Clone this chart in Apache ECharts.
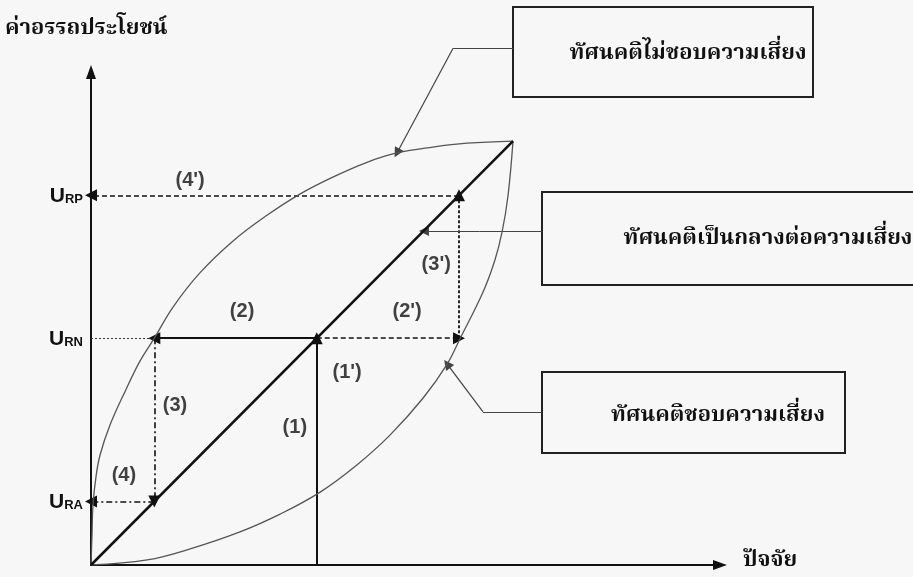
<!DOCTYPE html>
<html>
<head>
<meta charset="utf-8">
<title>ทัศนคติต่อความเสี่ยง</title>
<script src="https://cdn.jsdelivr.net/npm/echarts@6/dist/echarts.min.js"></script>
<style>
  html, body { margin: 0; padding: 0; background: #f7f7f8; }
  #chart { width: 913px; height: 577px; }
</style>
</head>
<body>
<div id="chart"></div>
<script>
// utility levels (axis units: 100 = top of the straight line)
const URA = 15;
const URN = 53.5;
const URP = 87.2;
const xMid = 53.5;

// curves
const riskAverse = [
  [0, 0], [0.24, 7.1], [0.47, 14.2], [1.18, 20.8], [2.13, 25.9], [4.5, 33],
  [8.1, 41], [11.6, 48.1], [15, 53.5], [19.4, 60.8], [25.8, 68.9],
  [33.6, 76.4], [41.7, 82.5], [49.5, 87.5], [57.3, 91.5], [65.4, 95],
  [72.5, 97.2], [81, 98.6], [89.1, 99.5], [100, 100]
];
const riskLoving = [
  [0, 0], [13.3, 1.2], [23.5, 3.8], [35.3, 7.8], [44.8, 12], [54.3, 17.2],
  [63, 23.6], [70.9, 30.7], [78.7, 39.4], [84.4, 47.4], [87.5, 53.5],
  [92.9, 64.4], [95.7, 71.9], [97.4, 78.5], [98.8, 87], [100, 100]
];
const riskNeutral = [[0, 0], [100, 100]];

// step labels
const stepLabels = ['(1)', "(1')", '(2)', "(2')", '(3)', "(3')", '(4)', "(4')"];
const stepPos = [
  [48.3, 32.5], [60.7, 45.3], [35.8, 59.7], [74.9, 59.7],
  [19.9, 37.7], [81.8, 71], [7.8, 21], [23.5, 90.8]
];

// y axis tick names
const yTickValues = [URA, URN, URP];
const yTickNames = ['RA', 'RN', 'RP'];

// box captions and the leader lines from them
const boxTexts = ['ทัศนคติไม่ชอบความเสี่ยง', 'ทัศนคติเป็นกลางต่อความเสี่ยง', 'ทัศนคติชอบความเสี่ยง'];
const leaderFlat = [
  [[100, 121.9], [85.8, 121.9]],
  [[106.9, 78.8], [92, 78.8]],
  [[106.9, 36.1], [92.9, 36.1]]
];
const leaderTip = [
  [[85.8, 121.9], [72.5, 97.2]],
  [[92, 78.8], [78.9, 78.8]],
  [[92.9, 36.1], [84.4, 47.4]]
];

const chart = echarts.init(document.getElementById('chart'));

const arrowSym = ['none', 'triangle'];
const thaiFont = '"Noto Serif Thai", "Noto Sans Thai Looped", Kinnari, Norasi, Garuda, Loma, "Noto Sans Thai", serif';

function arrowSeries(coords, type, width) {
  return {
    type: 'lines',
    coordinateSystem: 'cartesian2d',
    clip: false,
    symbol: arrowSym,
    symbolSize: [9, 12],
    silent: true,
    lineStyle: { color: '#111', width: width, type: type, opacity: 1 },
    data: [{ coords: coords }]
  };
}

const option = {
  backgroundColor: '#f7f7f8',
  animation: false,
  grid: { left: 91, right: 193, top: 72, bottom: 12 },
  xAxis: {
    type: 'value',
    min: 0,
    max: 149.05,
    splitLine: { show: false },
    axisTick: { show: false },
    axisLabel: { show: false },
    axisLine: {
      onZero: false,
      symbol: ['none', 'triangle'],
      symbolSize: [10, 14],
      lineStyle: { color: '#111', width: 2 }
    }
  },
  yAxis: {
    type: 'value',
    min: 0,
    max: 116.3,
    splitLine: { show: false },
    axisTick: { show: false },
    axisLine: {
      onZero: false,
      symbol: ['none', 'triangle'],
      symbolSize: [10, 14],
      lineStyle: { color: '#111', width: 2 }
    },
    axisLabel: {
      show: true,
      customValues: yTickValues,
      margin: 8,
      formatter: function (v) {
        const i = yTickValues.indexOf(v);
        return i < 0 ? '' : '{u|U}{s|' + yTickNames[i] + '}';
      },
      rich: {
        u: { fontFamily: 'Liberation Sans, Arial', fontWeight: 'bold', fontSize: 21, color: '#111', verticalAlign: 'bottom', lineHeight: 22 },
        s: { fontFamily: 'Liberation Sans, Arial', fontWeight: 'bold', fontSize: 13, color: '#111', verticalAlign: 'bottom', lineHeight: 18 }
      }
    }
  },
  graphic: [
    { type: 'rect', shape: { x: 513, y: 7, width: 300, height: 90 }, style: { fill: 'none', stroke: '#222', lineWidth: 2 } },
    { type: 'rect', shape: { x: 542, y: 192, width: 400, height: 93 }, style: { fill: 'none', stroke: '#222', lineWidth: 2 } },
    { type: 'rect', shape: { x: 542, y: 372, width: 303, height: 81 }, style: { fill: 'none', stroke: '#222', lineWidth: 2 } },
    { type: 'text', x: 688, y: 55, style: { text: boxTexts[0], font: 'bold 22px ' + thaiFont, fill: '#111', align: 'center', verticalAlign: 'middle' } },
    { type: 'text', x: 768, y: 240, style: { text: boxTexts[1], font: 'bold 22px ' + thaiFont, fill: '#111', align: 'center', verticalAlign: 'middle' } },
    { type: 'text', x: 718, y: 417, style: { text: boxTexts[2], font: 'bold 22px ' + thaiFont, fill: '#111', align: 'center', verticalAlign: 'middle' } },
    { type: 'text', x: 5, y: 30, style: { text: 'ค่าอรรถประโยชน์', font: 'bold 22px ' + thaiFont, fill: '#111', align: 'left', verticalAlign: 'middle' } },
    { type: 'text', x: 743, y: 562, style: { text: 'ปัจจัย', font: 'bold 22px ' + thaiFont, fill: '#111', align: 'left', verticalAlign: 'middle' } }
  ],
  series: [
    {
      name: 'ไม่ชอบความเสี่ยง',
      type: 'line',
      data: riskAverse,
      smooth: 0.4,
      showSymbol: false,
      lineStyle: { color: '#555', width: 1.3 }
    },
    {
      name: 'ชอบความเสี่ยง',
      type: 'line',
      data: riskLoving,
      smooth: 0.4,
      showSymbol: false,
      lineStyle: { color: '#555', width: 1.3 }
    },
    {
      name: 'เป็นกลาง',
      type: 'line',
      data: riskNeutral,
      showSymbol: false,
      lineStyle: { color: '#111', width: 2.5 }
    },
    // URN guide from the axis to the averse curve
    {
      type: 'lines',
      coordinateSystem: 'cartesian2d',
      silent: true,
      lineStyle: { color: '#333', width: 1, type: [2, 2], opacity: 1 },
      data: [{ coords: [[0, URN], [URA, URN]] }]
    },
    arrowSeries([[xMid, 0], [xMid, URN]], 'solid', 2),          // (1)
    arrowSeries([[xMid, URN], [URA, URN]], 'solid', 2),          // (2)
    arrowSeries([[URA, URN], [URA, URA]], [6, 3, 2, 3], 1.6),    // (3)
    arrowSeries([[URA, URA], [0, URA]], [6, 3, 2, 3], 1.6),      // (4)
    arrowSeries([[xMid, URN], [URP, URN]], [5, 3], 1.6),         // (2')
    arrowSeries([[URP, URN], [URP, URP]], [3, 2], 1.8),          // (3')
    arrowSeries([[URP, URP], [0, URP]], [5, 3], 1.6),            // (4')
    // leader lines from the boxes
    {
      type: 'lines',
      coordinateSystem: 'cartesian2d',
      clip: false,
      silent: true,
      lineStyle: { color: '#444', width: 1.2, opacity: 1 },
      data: leaderFlat.map(function (c) { return { coords: c }; })
    },
    {
      type: 'lines',
      coordinateSystem: 'cartesian2d',
      clip: false,
      silent: true,
      symbol: arrowSym,
      symbolSize: [7, 10],
      lineStyle: { color: '#444', width: 1.2, opacity: 1 },
      data: leaderTip.map(function (c) { return { coords: c }; })
    },
    {
      type: 'scatter',
      symbolSize: 0,
      silent: true,
      data: stepPos.map(function (p, i) { return { value: p, name: stepLabels[i] }; }),
      label: {
        show: true,
        position: 'inside',
        formatter: '{b}',
        fontFamily: 'Liberation Sans, Arial',
        fontWeight: 'bold',
        fontSize: 20,
        color: '#111'
      }
    }
  ]
};

chart.setOption(option);
</script>
</body>
</html>
